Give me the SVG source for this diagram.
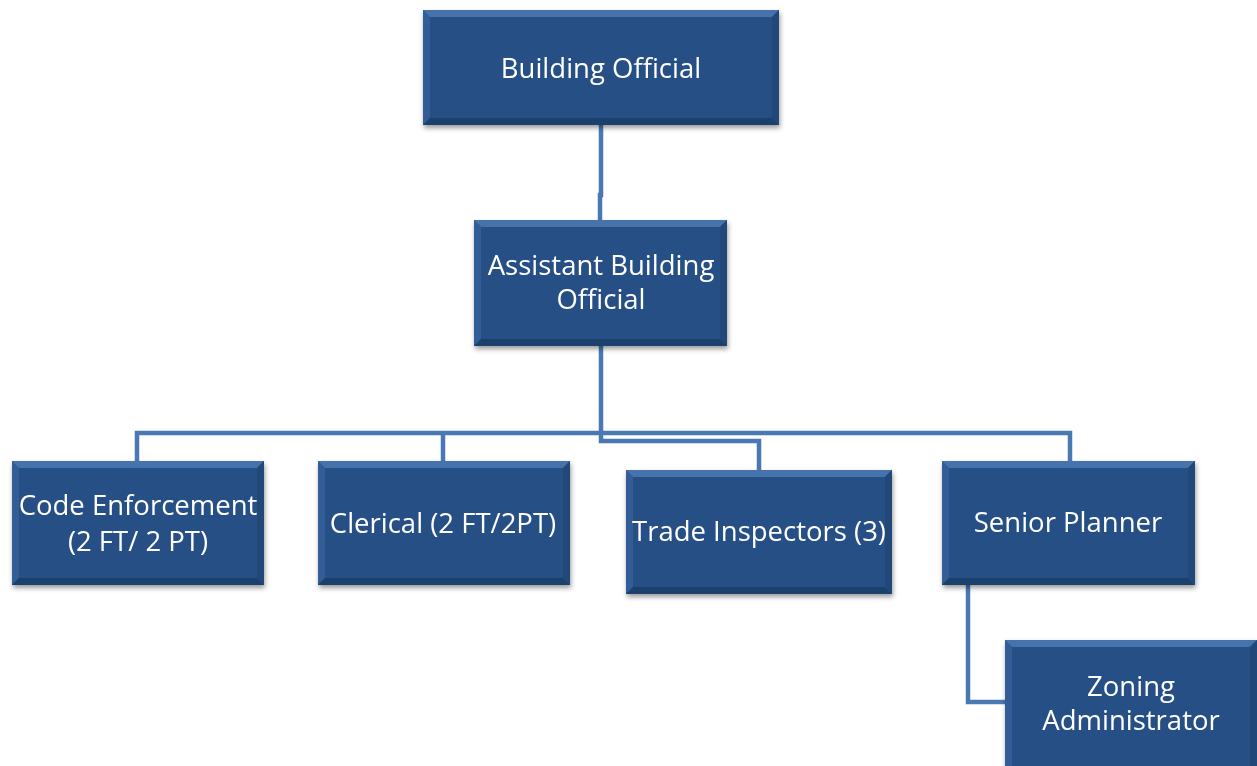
<svg xmlns="http://www.w3.org/2000/svg" width="1257" height="766" viewBox="0 0 1257 766">
<style>
.box{fill:#285086}
.bt{fill:#4673ad}
.bl{fill:#325d96}
.br{fill:#214779}
.bb{fill:#1d3f6d}
.lbl{font-family:"Open Sans","Liberation Sans",sans-serif;font-size:27.5px;fill:#ffffff;text-anchor:middle}
.conn{fill:none;stroke:#4a78b3;stroke-width:4.5}
</style>
<defs>
<filter id="sh" x="-10%" y="-10%" width="130%" height="140%">
<feDropShadow dx="1" dy="3" stdDeviation="2.5" flood-color="#000" flood-opacity="0.4"/>
</filter>
</defs>
<rect width="1257" height="766" fill="#ffffff"/>
<g id="connectors" class="conn">
<path d="M601,125 V195 H600 V220"/>
<path d="M601,346 V441 H759 V470"/>
<path d="M137,461 V433 H1070 V461"/>
<path d="M443,433 V461"/>
<path d="M968,585 V702 H1005"/>
</g>
<g id="building-official" filter="url(#sh)">
<rect class="box" x="423" y="10" width="356" height="115"/>
<polygon class="bt" points="423,10 779,10 772,17 430,17"/>
<polygon class="bl" points="423,10 430,17 430,118 423,125"/>
<polygon class="br" points="779,10 779,125 772,118 772,17"/>
<polygon class="bb" points="423,125 779,125 772,118 430,118"/>
<text class="lbl" x="601" y="78">Building Official</text>
</g>
<g id="assistant-building-official" filter="url(#sh)">
<rect class="box" x="474" y="220" width="253" height="126"/>
<polygon class="bt" points="474,220 727,220 720,227 481,227"/>
<polygon class="bl" points="474,220 481,227 481,339 474,346"/>
<polygon class="br" points="727,220 727,346 720,339 720,227"/>
<polygon class="bb" points="474,346 727,346 720,339 481,339"/>
<text class="lbl" x="601" y="275">Assistant Building</text>
<text class="lbl" x="601" y="309">Official</text>
</g>
<g id="code-enforcement" filter="url(#sh)">
<rect class="box" x="12" y="461" width="252" height="124"/>
<polygon class="bt" points="12,461 264,461 257,468 19,468"/>
<polygon class="bl" points="12,461 19,468 19,578 12,585"/>
<polygon class="br" points="264,461 264,585 257,578 257,468"/>
<polygon class="bb" points="12,585 264,585 257,578 19,578"/>
<text class="lbl" x="138" y="515">Code Enforcement</text>
<text class="lbl" x="138" y="551">(2 FT/ 2 PT)</text>
</g>
<g id="clerical" filter="url(#sh)">
<rect class="box" x="318" y="461" width="252" height="124"/>
<polygon class="bt" points="318,461 570,461 563,468 325,468"/>
<polygon class="bl" points="318,461 325,468 325,578 318,585"/>
<polygon class="br" points="570,461 570,585 563,578 563,468"/>
<polygon class="bb" points="318,585 570,585 563,578 325,578"/>
<text class="lbl" x="443" y="533">Clerical (2 FT/2PT)</text>
</g>
<g id="trade-inspectors" filter="url(#sh)">
<rect class="box" x="626" y="470" width="266" height="124"/>
<polygon class="bt" points="626,470 892,470 885,477 633,477"/>
<polygon class="bl" points="626,470 633,477 633,587 626,594"/>
<polygon class="br" points="892,470 892,594 885,587 885,477"/>
<polygon class="bb" points="626,594 892,594 885,587 633,587"/>
<text class="lbl" x="759" y="541">Trade Inspectors (3)</text>
</g>
<g id="senior-planner" filter="url(#sh)">
<rect class="box" x="942" y="461" width="253" height="124"/>
<polygon class="bt" points="942,461 1195,461 1188,468 949,468"/>
<polygon class="bl" points="942,461 949,468 949,578 942,585"/>
<polygon class="br" points="1195,461 1195,585 1188,578 1188,468"/>
<polygon class="bb" points="942,585 1195,585 1188,578 949,578"/>
<text class="lbl" x="1068" y="532">Senior Planner</text>
</g>
<g id="zoning-administrator" filter="url(#sh)">
<rect class="box" x="1005" y="640" width="252" height="130"/>
<polygon class="bt" points="1005,640 1257,640 1250,647 1012,647"/>
<polygon class="bl" points="1005,640 1012,647 1012,770 1005,770"/>
<polygon class="br" points="1257,640 1257,770 1250,770 1250,647"/>
<text class="lbl" x="1131" y="696">Zoning</text>
<text class="lbl" x="1131" y="730">Administrator</text>
</g>
</svg>
